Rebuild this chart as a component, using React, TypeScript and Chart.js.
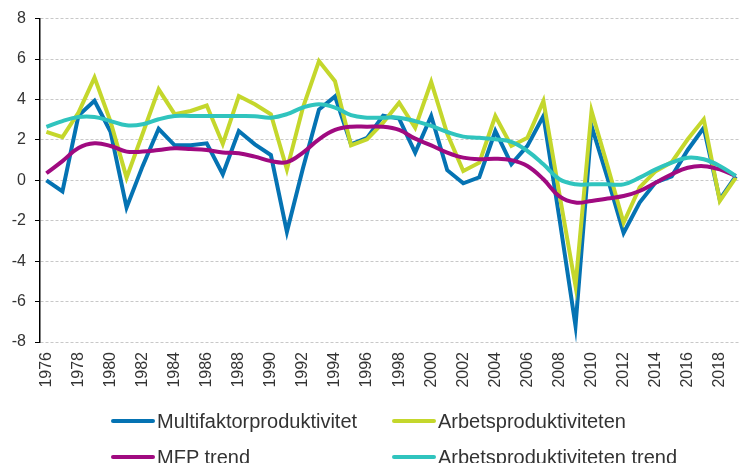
import React, { useEffect, useRef } from "react";
import { Chart, registerables } from "chart.js";

Chart.register(...registerables);

const years: number[] = [
  1976, 1977, 1978, 1979, 1980, 1981, 1982, 1983, 1984, 1985, 1986, 1987, 1988, 1989, 1990,
  1991, 1992, 1993, 1994, 1995, 1996, 1997, 1998, 1999, 2000, 2001, 2002, 2003, 2004, 2005,
  2006, 2007, 2008, 2009, 2010, 2011, 2012, 2013, 2014, 2015, 2016, 2017, 2018, 2019,
];

const multifaktor: number[] = [
  0.0, -0.55, 3.2, 3.93, 2.4, -1.35, 0.7, 2.55, 1.73, 1.73, 1.83, 0.3, 2.44, 1.78, 1.25,
  -2.55, 0.6, 3.5, 4.15, 1.78, 2.1, 3.2, 3.05, 1.37, 3.18, 0.5, -0.15, 0.15, 2.44, 0.8,
  1.7, 3.18, -1.9, -7.2, 2.69, 0.1, -2.6, -1.1, -0.1, 0.2, 1.5, 2.6, -0.95, 0.2,
];

const arbets: number[] = [
  2.4, 2.14, 3.35, 5.08, 2.9, 0.13, 2.3, 4.5, 3.27, 3.43, 3.7, 1.8, 4.17, 3.76, 3.27,
  0.54, 3.6, 5.9, 4.9, 1.73, 2.03, 2.85, 3.84, 2.6, 4.87, 2.3, 0.46, 0.87, 3.18, 1.7,
  2.1, 3.93, -0.7, -5.23, 3.43, 0.7, -2.1, -0.35, 0.45, 0.9, 2.03, 3.02, -1.02, 0.13,
];

const mfpTrend: number[] = [
  0.35, 0.95, 1.6, 1.83, 1.7, 1.42, 1.42, 1.5, 1.58, 1.55, 1.5, 1.37, 1.34, 1.17, 0.95,
  0.9, 1.37, 2.03, 2.49, 2.65, 2.65, 2.65, 2.49, 2.06, 1.73, 1.37, 1.12, 1.04, 1.07, 1.0,
  0.71, 0.05, -0.8, -1.1, -1.02, -0.9, -0.78, -0.53, -0.12, 0.3, 0.62, 0.7, 0.54, 0.21,
];

const arbetsTrend: number[] = [
  2.64, 2.93, 3.13, 3.13, 2.93, 2.72, 2.77, 3.02, 3.18, 3.18, 3.18, 3.18, 3.18, 3.17, 3.1,
  3.27, 3.6, 3.76, 3.6, 3.22, 3.1, 3.1, 3.1, 2.93, 2.69, 2.39, 2.16, 2.1, 2.03, 1.9,
  1.45, 0.79, 0.05, -0.2, -0.2, -0.2, -0.2, 0.13, 0.54, 0.87, 1.12, 1.04, 0.71, 0.21,
];

const seriesNames: string[] = [
  "Multifaktorproduktivitet",
  "Arbetsproduktiviteten",
  "MFP trend",
  "Arbetsproduktiviteten trend",
];

const colors: string[] = ["#0573B3", "#C4D72C", "#A00A80", "#30C4BE"];

const toPoints = (vals: number[]) => vals.map((v, i) => ({ x: years[i], y: v }));

export default function App() {
  const ref = useRef<HTMLCanvasElement | null>(null);

  useEffect(() => {
    if (!ref.current) return;
    const chart = new Chart(ref.current, {
      type: "line",
      data: {
        datasets: [
          {
            label: seriesNames[0],
            data: toPoints(multifaktor),
            borderColor: colors[0],
            backgroundColor: colors[0],
            borderWidth: 4,
            pointRadius: 0,
            tension: 0,
            order: 3,
          },
          {
            label: seriesNames[1],
            data: toPoints(arbets),
            borderColor: colors[1],
            backgroundColor: colors[1],
            borderWidth: 4,
            pointRadius: 0,
            tension: 0,
            order: 2,
          },
          {
            label: seriesNames[2],
            data: toPoints(mfpTrend),
            borderColor: colors[2],
            backgroundColor: colors[2],
            borderWidth: 4,
            pointRadius: 0,
            tension: 0.4,
            order: 1,
          },
          {
            label: seriesNames[3],
            data: toPoints(arbetsTrend),
            borderColor: colors[3],
            backgroundColor: colors[3],
            borderWidth: 4,
            pointRadius: 0,
            tension: 0.4,
            order: 0,
          },
        ],
      },
      options: {
        responsive: false,
        animation: false,
        layout: { padding: { top: 17, left: 0, right: 0, bottom: 0 } },
        plugins: {
          legend: { display: false },
          tooltip: { enabled: false },
        },
        scales: {
          x: {
            type: "linear",
            min: 1975.6,
            max: 2019.2,
            grid: { display: false, drawTicks: false },
            border: { display: false },
            ticks: {
              stepSize: 2,
              includeBounds: false,
              autoSkip: false,
              minRotation: 90,
              maxRotation: 90,
              padding: 10,
              color: "#333",
              font: { family: "'Liberation Sans', Arial, sans-serif", size: 16 },
              callback: (v: any) => String(v),
            },
            afterFit: (scale: any) => {
              scale.height = 121;
            },
          },
          y: {
            min: -8,
            max: 8,
            grid: {
              color: "#c8c8c8",
              lineWidth: 1,
              tickColor: "#000",
              tickLength: 5,
              tickBorderDash: [],
            },
            border: { color: "#000", width: 1.5, dash: [3, 2] },
            ticks: {
              stepSize: 2,
              padding: 9,
              color: "#333",
              font: { family: "'Liberation Sans', Arial, sans-serif", size: 16 },
            },
            afterFit: (scale: any) => {
              scale.width = 40;
            },
          },
        },
      },
    });
    return () => chart.destroy();
  }, []);

  const legendItems = [
    { name: seriesNames[0], color: colors[0], left: 111, top: 421 },
    { name: seriesNames[1], color: colors[1], left: 392, top: 421 },
    { name: seriesNames[2], color: colors[2], left: 111, top: 457 },
    { name: seriesNames[3], color: colors[3], left: 392, top: 457 },
  ];

  return (
    <div
      style={{
        position: "fixed",
        left: 0,
        top: 0,
        width: 749,
        height: 463,
        overflow: "hidden",
        background: "#fff",
      }}
    >
      <canvas ref={ref} width={749} height={463} style={{ display: "block" }} />
      {legendItems.map((it) => (
        <div
          key={it.name}
          style={{
            position: "absolute",
            left: it.left,
            top: it.top - 13,
            height: 26,
            display: "flex",
            alignItems: "center",
            whiteSpace: "nowrap",
            fontFamily: "'Liberation Sans', Arial, sans-serif",
            fontSize: 20,
            color: "#333",
          }}
        >
          <span
            style={{
              display: "inline-block",
              width: 44,
              height: 4,
              borderRadius: 2,
              background: it.color,
              marginRight: 2,
            }}
          />
          <span>{it.name}</span>
        </div>
      ))}
    </div>
  );
}
